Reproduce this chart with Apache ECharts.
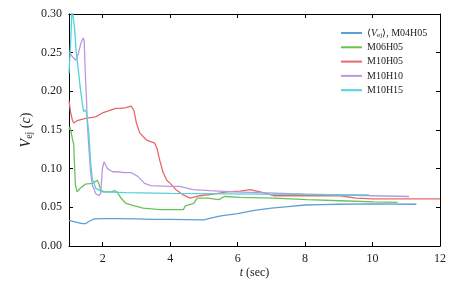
<!DOCTYPE html>
<html><head><meta charset="utf-8">
<script src="https://cdn.jsdelivr.net/npm/echarts@6/dist/echarts.min.js"></script>
<style>html,body{margin:0;padding:0;background:#fff}#c{width:463px;height:290px}</style>
</head><body><div id="c"></div>
<script>
var seriesNames = ['M04H05', 'M06H05', 'M10H05', 'M10H10', 'M10H15'];
var xTicks = [2, 4, 6, 8, 10, 12];
var yTicks = [0, 0.05, 0.10, 0.15, 0.20, 0.25, 0.30];

var avgM04H05 = [[1.0,0.033],[1.2,0.031],[1.4,0.029],[1.5,0.029],[1.6,0.032],[1.75,0.035],[2.0,0.0355],[2.5,0.0355],[3.0,0.035],[3.5,0.0345],[4.0,0.0343],[4.5,0.034],[5.0,0.0338],[5.2,0.036],[5.5,0.039],[6.0,0.042],[6.5,0.046],[7.0,0.049],[7.5,0.051],[8.0,0.053],[8.5,0.0535],[9.0,0.054],[10.0,0.0545],[11.3,0.054]];
var m06h05 = [[1.0,0.150],[1.03,0.154],[1.1,0.139],[1.14,0.131],[1.16,0.109],[1.19,0.079],[1.24,0.070],[1.34,0.075],[1.49,0.080],[1.69,0.081],[1.84,0.085],[1.89,0.080],[1.94,0.072],[2.05,0.070],[2.24,0.070],[2.36,0.0715],[2.44,0.069],[2.54,0.062],[2.69,0.055],[2.94,0.052],[3.2,0.049],[3.7,0.047],[4.39,0.047],[4.45,0.052],[4.7,0.055],[4.8,0.062],[5.1,0.062],[5.45,0.060],[5.6,0.064],[6.07,0.063],[7.07,0.062],[8.06,0.060],[9.05,0.0585],[10.04,0.057],[10.74,0.0565]];
var m10h05 = [[1.0,0.188],[1.05,0.172],[1.1,0.163],[1.14,0.159],[1.24,0.162],[1.49,0.165],[1.79,0.167],[1.99,0.172],[2.39,0.178],[2.54,0.178],[2.69,0.179],[2.84,0.181],[2.92,0.176],[3.0,0.159],[3.1,0.146],[3.3,0.137],[3.54,0.133],[3.61,0.126],[3.69,0.111],[3.79,0.095],[3.9,0.085],[4.0,0.081],[4.19,0.072],[4.39,0.066],[4.59,0.062],[4.88,0.065],[5.28,0.067],[5.68,0.070],[6.07,0.071],[6.37,0.073],[6.67,0.070],[7.07,0.065],[8.06,0.065],[9.05,0.065],[9.5,0.062],[10.0,0.061],[11.0,0.061],[12.0,0.061]];
var m10h10 = [[1.0,0.251],[1.1,0.245],[1.2,0.240],[1.28,0.249],[1.35,0.262],[1.42,0.269],[1.45,0.266],[1.47,0.240],[1.5,0.206],[1.52,0.189],[1.54,0.161],[1.59,0.126],[1.64,0.096],[1.69,0.079],[1.79,0.068],[1.89,0.065],[1.94,0.068],[1.99,0.100],[2.04,0.109],[2.14,0.100],[2.29,0.096],[2.44,0.096],[2.64,0.095],[2.84,0.095],[3.04,0.090],[3.24,0.081],[3.43,0.078],[4.0,0.077],[4.29,0.077],[4.68,0.073],[5.18,0.0715],[5.87,0.070],[6.67,0.069],[8.0,0.067],[10.0,0.065],[11.08,0.064]];
var m10h15 = [[1.0,0.223],[1.05,0.265],[1.09,0.31],[1.11,0.30],[1.16,0.284],[1.21,0.253],[1.27,0.230],[1.33,0.206],[1.37,0.193],[1.43,0.174],[1.49,0.176],[1.53,0.170],[1.59,0.144],[1.64,0.109],[1.69,0.0875],[1.79,0.0746],[1.99,0.070],[2.7,0.069],[4.0,0.068],[6.67,0.067],[9.89,0.066]];

var colors = ['#5e9fd6', '#6cc05c', '#e8686a', '#bb98dd', '#52d2da'];
var dataSets = [avgM04H05, m06h05, m10h05, m10h10, m10h15];
var FONT = 'Liberation Serif';

var chart = echarts.init(document.getElementById('c'));
var series = seriesNames.map(function (n, i) {
  return {
    name: n, type: 'line', data: dataSets[i], showSymbol: false, symbol: 'none',
    xAxisIndex: 0, yAxisIndex: 0, clip: true,
    lineStyle: { color: colors[i], width: 1.3 }, itemStyle: { color: colors[i] },
    z: 2 + i
  };
});
var tickStyle = { show: true, inside: true, length: 4, lineStyle: { color: '#000', width: 1 } };
var lineStyle = { show: true, onZero: false, lineStyle: { color: '#000', width: 1 } };
chart.setOption({
  animation: false,
  backgroundColor: '#fff',
  grid: { left: 69, right: 23, top: 14, bottom: 44 },
  legend: {
    orient: 'vertical', left: 336, top: 22, itemWidth: 21, itemHeight: 2, itemGap: 2.3,
    icon: 'rect',
    data: seriesNames,
    textStyle: { fontFamily: FONT, fontSize: 10, color: '#222', lineHeight: 12,
      rich: { s: { fontFamily: FONT, fontSize: 7, color: '#222', verticalAlign: 'bottom', padding: [4, 0, 0, 0] },
              v: { fontFamily: FONT, fontSize: 10, fontStyle: 'italic', color: '#222' } } },
    formatter: function (n) { return n === 'M04H05' ? '⟨{v|V}{s|ej}⟩, M04H05' : n; }
  },
  xAxis: [{
    type: 'value', min: 1, max: 12, position: 'bottom',
    axisLine: lineStyle, axisTick: Object.assign({ customValues: xTicks }, tickStyle),
    axisLabel: { customValues: xTicks, fontFamily: FONT, fontSize: 12, color: '#222', margin: 7 },
    splitLine: { show: false },
    name: '{i|t} (sec)', nameLocation: 'middle', nameGap: 21, nameMoveOverlap: false,
    nameTextStyle: { fontFamily: FONT, fontSize: 12, color: '#222',
      rich: { i: { fontFamily: FONT, fontSize: 12, fontStyle: 'italic', color: '#222' } } }
  }, {
    type: 'value', min: 1, max: 12, position: 'top',
    axisLine: lineStyle, axisTick: Object.assign({ customValues: xTicks }, tickStyle),
    axisLabel: { show: false }, splitLine: { show: false }
  }],
  yAxis: [{
    type: 'value', min: 0, max: 0.3, interval: 0.05, position: 'left',
    axisLine: lineStyle, axisTick: tickStyle,
    axisLabel: { fontFamily: FONT, fontSize: 12, color: '#222', margin: 7, formatter: function (v) { return v.toFixed(2); } },
    splitLine: { show: false },
    name: '{v|V}{s|ej} ({i|c})', nameLocation: 'middle', nameGap: 35, nameRotate: 90, nameMoveOverlap: false,
    nameTextStyle: { fontFamily: FONT, fontSize: 14, color: '#222',
      rich: { v: { fontFamily: FONT, fontSize: 14, fontStyle: 'italic', color: '#222' },
              i: { fontFamily: FONT, fontSize: 14, fontStyle: 'italic', color: '#222' },
              s: { fontFamily: FONT, fontSize: 10, color: '#222', verticalAlign: 'bottom', padding: [5, 0, 0, 0] } } }
  }, {
    type: 'value', min: 0, max: 0.3, interval: 0.05, position: 'right',
    axisLine: lineStyle, axisTick: tickStyle,
    axisLabel: { show: false }, splitLine: { show: false }
  }],
  series: series
});
</script></body></html>
